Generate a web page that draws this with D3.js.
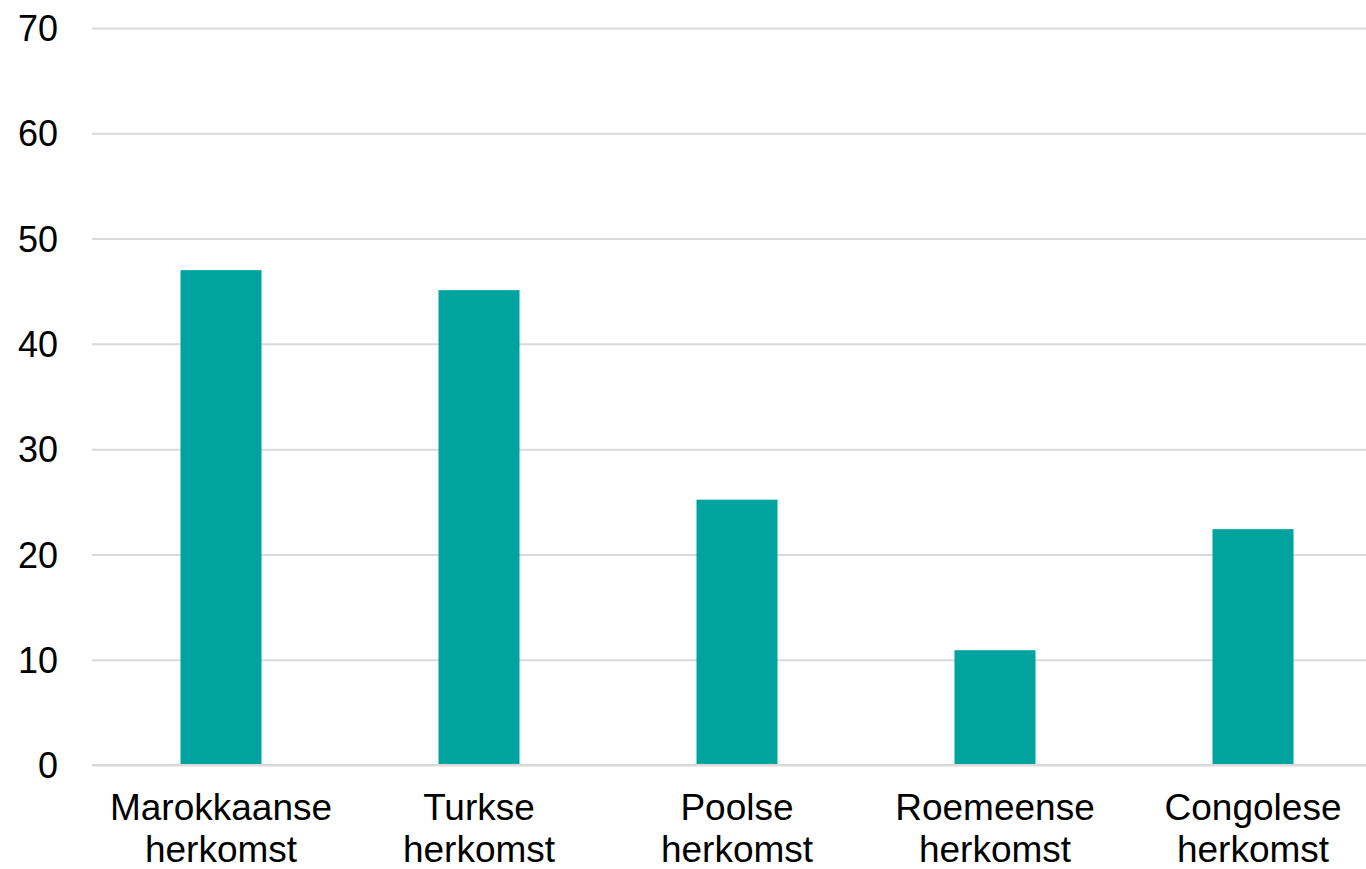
<!DOCTYPE html>
<html>
<head>
<meta charset="utf-8">
<script src="https://cdn.jsdelivr.net/npm/d3@7"></script>
<style>
  html, body { margin: 0; padding: 0; background: #fff; }
  svg { display: block; font-family: 'Liberation Sans', Arial, sans-serif; }
</style>
</head>
<body>
<svg id="chart" width="1366" height="869"></svg>
<script>
// categories (two-line labels) and values
const categories = ['Marokkaanse herkomst', 'Turkse herkomst', 'Poolse herkomst', 'Roemeense herkomst', 'Congolese herkomst']
const values = [47.0, 45.1, 25.2, 10.9, 22.4]
const yTicks = [0, 10, 20, 30, 40, 50, 60, 70]

const svg = d3.select('#chart')
const margin = { top: 28, right: 0, bottom: 104, left: 92 }
const height = 869 - margin.top - margin.bottom

// band step 258, bars ~81 wide
const x = d3.scaleBand()
  .domain(categories)
  .range([margin.left, margin.left + 258 * categories.length])
  .paddingInner(0.686)
  .paddingOuter(0.343)

const y = d3.scaleLinear()
  .domain([0, 70])
  .range([margin.top + height, margin.top])

// gridlines + y labels
const yAxis = d3.axisLeft(y)
  .tickValues(yTicks)
  .tickSize(-(1366 - margin.left))
  .tickPadding(34)
  .tickFormat(d3.format('d'))

const gy = svg.append('g')
  .attr('transform', 'translate(' + margin.left + ',0)')
  .call(yAxis)
gy.select('.domain').remove()
gy.selectAll('.tick line').attr('stroke', '#d9d9d9').attr('stroke-width', 2)
gy.selectAll('.tick text')
  .attr('fill', '#000')
  .style('font-size', '36px')
  .attr('dy', '0.35em')

// bars
svg.append('g').selectAll('rect')
  .data(values)
  .join('rect')
  .attr('x', (d, i) => x(categories[i]))
  .attr('width', x.bandwidth())
  .attr('y', d => y(d))
  .attr('height', d => y(0) - y(d))
  .attr('fill', '#00a39d')

// baseline drawn over bars
svg.append('line')
  .attr('x1', margin.left).attr('x2', 1366)
  .attr('y1', y(0)).attr('y2', y(0))
  .attr('stroke', '#d9d9d9').attr('stroke-width', 2)

// category labels, two lines
const lab = svg.append('g').selectAll('text')
  .data(categories)
  .join('text')
  .attr('x', d => x(d) + x.bandwidth() / 2)
  .attr('y', 820)
  .attr('text-anchor', 'middle')
  .style('font-size', '37px')
  .attr('fill', '#000')
lab.selectAll('tspan')
  .data(d => d.split(' '))
  .join('tspan')
  .attr('x', function () { return this.parentNode.getAttribute('x') })
  .attr('dy', (d, i) => i === 0 ? 0 : 42)
  .text(d => d)
</script>
</body>
</html>
